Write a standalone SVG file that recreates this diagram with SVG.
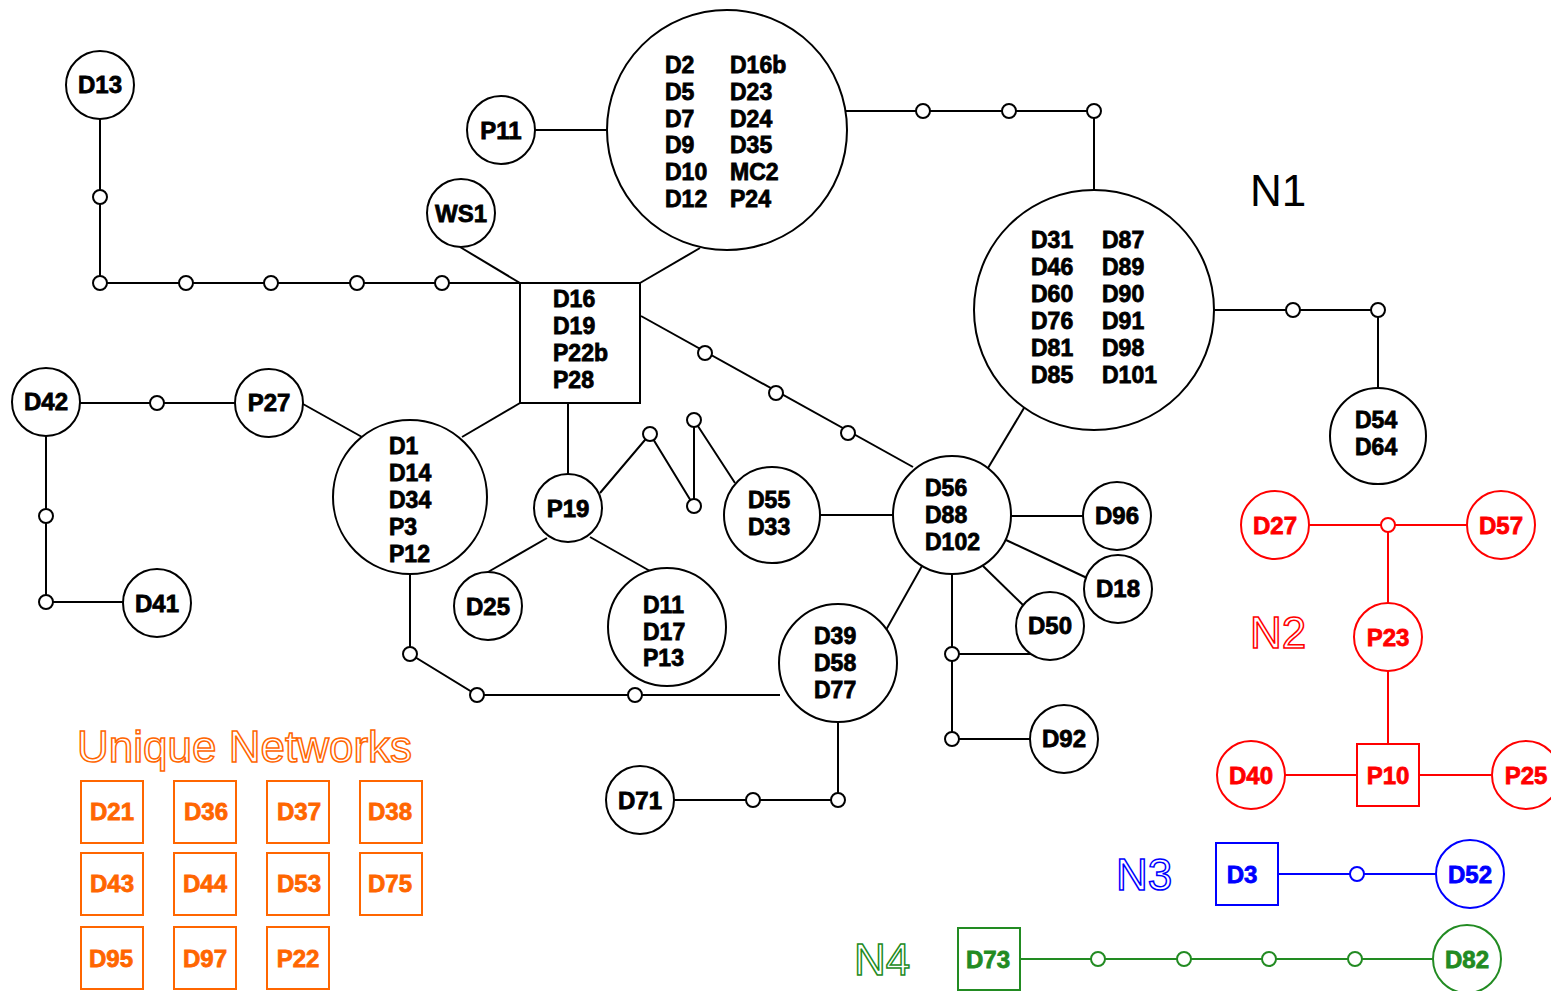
<svg xmlns="http://www.w3.org/2000/svg" width="1551" height="991" viewBox="0 0 1551 991">
<style>
.k{stroke:#000;stroke-width:2;fill:none}
.r{stroke:#ff0000;stroke-width:2;fill:none}
.b{stroke:#0000ff;stroke-width:2;fill:none}
.g{stroke:#228b22;stroke-width:2;fill:none}
.o{stroke:#ff6600;stroke-width:2;fill:none}
.nk{stroke:#000;stroke-width:2;fill:#fff}
.nr{stroke:#ff0000;stroke-width:2;fill:#fff}
.nb{stroke:#0000ff;stroke-width:2;fill:#fff}
.ng{stroke:#228b22;stroke-width:2;fill:#fff}
.no{stroke:#ff6600;stroke-width:2;fill:#fff}
text{font-family:"Liberation Sans",Arial,sans-serif;font-weight:bold;font-size:23px}
.tk{fill:#000;stroke:#000;stroke-width:0.8}
.tr{fill:#ff0000;stroke:#ff0000;stroke-width:0.8}
.tb{fill:#0000ff;stroke:#0000ff;stroke-width:0.8}
.tg{fill:#228b22;stroke:#228b22;stroke-width:0.8}
.to{fill:#ff6600;stroke:#ff6600;stroke-width:0.8}
.c{text-anchor:middle}
.s{font-size:24px}
.big{font-weight:normal;font-size:44px}
.outr{fill:#fff;stroke:#ff0000;stroke-width:1.5}
.outb{fill:#fff;stroke:#0000ff;stroke-width:1.5}
.outg{fill:#fff;stroke:#228b22;stroke-width:1.5}
.outo{fill:#fff;stroke:#ff6600;stroke-width:1.5}
</style>
<rect width="1551" height="991" fill="#fff"/>
<g id="connectors">
<g class="k">
<polyline points="100,119 100,283 520,283"/>
<line x1="460" y1="247" x2="520" y2="283"/>
<line x1="535" y1="130" x2="607" y2="130"/>
<line x1="640" y1="283" x2="700" y2="248"/>
<polyline points="846,111 1094,111 1094,190"/>
<polyline points="1214,310 1378,310 1378,388"/>
<line x1="641" y1="316" x2="913" y2="467"/>
<line x1="568" y1="403" x2="568" y2="474"/>
<line x1="520" y1="403" x2="462" y2="437"/>
<line x1="80" y1="403" x2="235" y2="403"/>
<polyline points="46,436 46,602 123,602"/>
<line x1="303" y1="404" x2="362" y2="437"/>
<polyline points="410,574 410,654 477,695 780,695"/>
<line x1="547" y1="538" x2="488" y2="572"/>
<line x1="590" y1="537" x2="650" y2="571"/>
<polyline points="600,493 650,434 694,506 694,420 735,483"/>
<line x1="820" y1="515" x2="893" y2="515"/>
<line x1="988" y1="468" x2="1024" y2="408"/>
<line x1="1011" y1="516" x2="1084" y2="516"/>
<line x1="1006" y1="540" x2="1087" y2="578"/>
<line x1="983" y1="566" x2="1023" y2="605"/>
<polyline points="952,574 952,739 1030,739"/>
<line x1="952" y1="654" x2="1031" y2="654"/>
<line x1="922" y1="566" x2="886" y2="630"/>
<polyline points="838,722 838,800 674,800"/>
</g>
<line class="r" x1="1309" y1="525" x2="1467" y2="525"/>
<polyline class="r" points="1388,525 1388,603"/>
<line class="r" x1="1388" y1="671" x2="1388" y2="744"/>
<line class="r" x1="1285" y1="775" x2="1491" y2="775"/>
<line class="b" x1="1278" y1="874" x2="1436" y2="874"/>
<line class="g" x1="1020" y1="959" x2="1433" y2="959"/>
<g id="junctions">
<g class="nk">
<circle cx="100" cy="197" r="7"/><circle cx="100" cy="283" r="7"/><circle cx="186" cy="283" r="7"/><circle cx="271" cy="283" r="7"/><circle cx="357" cy="283" r="7"/><circle cx="442" cy="283" r="7"/>
<circle cx="923" cy="111" r="7"/><circle cx="1009" cy="111" r="7"/><circle cx="1094" cy="111" r="7"/>
<circle cx="1293" cy="310" r="7"/><circle cx="1378" cy="310" r="7"/>
<circle cx="705" cy="353" r="7"/><circle cx="776" cy="393" r="7"/><circle cx="848" cy="433" r="7"/>
<circle cx="157" cy="403" r="7"/><circle cx="46" cy="516" r="7"/><circle cx="46" cy="602" r="7"/>
<circle cx="410" cy="654" r="7"/><circle cx="477" cy="695" r="7"/><circle cx="635" cy="695" r="7"/>
<circle cx="650" cy="434" r="7"/><circle cx="694" cy="506" r="7"/><circle cx="694" cy="420" r="7"/>
<circle cx="952" cy="654" r="7"/><circle cx="952" cy="739" r="7"/>
<circle cx="753" cy="800" r="7"/><circle cx="838" cy="800" r="7"/>
</g>
<circle class="nr" cx="1388" cy="525" r="7"/>
<circle class="nb" cx="1357" cy="874" r="7"/>
<g class="ng"><circle cx="1098" cy="959" r="7"/><circle cx="1184" cy="959" r="7"/><circle cx="1269" cy="959" r="7"/><circle cx="1355" cy="959" r="7"/></g>
</g>
</g>
<g id="D13"><circle class="nk" cx="100" cy="85" r="34"/><text class="tk c s" x="100" y="93">D13</text></g>
<g id="P11"><circle class="nk" cx="501" cy="130" r="34"/><text class="tk c s" x="501" y="139">P11</text></g>
<g id="WS1"><circle class="nk" cx="461" cy="213" r="34"/><text class="tk c s" x="461" y="222">WS1</text></g>
<g id="C_D2"><circle class="nk" cx="727" cy="130" r="120"/>
<text class="tk"><tspan x="665" y="73">D2</tspan><tspan x="665" y="100">D5</tspan><tspan x="665" y="127">D7</tspan><tspan x="665" y="153">D9</tspan><tspan x="665" y="180">D10</tspan><tspan x="665" y="207">D12</tspan></text>
<text class="tk"><tspan x="730" y="73">D16b</tspan><tspan x="730" y="100">D23</tspan><tspan x="730" y="127">D24</tspan><tspan x="730" y="153">D35</tspan><tspan x="730" y="180">MC2</tspan><tspan x="730" y="207">P24</tspan></text></g>
<g id="C_D31"><circle class="nk" cx="1094" cy="310" r="120"/>
<text class="tk"><tspan x="1031" y="248">D31</tspan><tspan x="1031" y="275">D46</tspan><tspan x="1031" y="302">D60</tspan><tspan x="1031" y="329">D76</tspan><tspan x="1031" y="356">D81</tspan><tspan x="1031" y="383">D85</tspan></text>
<text class="tk"><tspan x="1102" y="248">D87</tspan><tspan x="1102" y="275">D89</tspan><tspan x="1102" y="302">D90</tspan><tspan x="1102" y="329">D91</tspan><tspan x="1102" y="356">D98</tspan><tspan x="1102" y="383">D101</tspan></text></g>
<g id="N1label"><text class="big" x="1250" y="206" fill="#000">N1</text></g>
<g id="D54"><circle class="nk" cx="1378" cy="436" r="48"/><text class="tk"><tspan x="1355" y="428">D54</tspan><tspan x="1355" y="455">D64</tspan></text></g>
<g id="B_D16"><rect class="nk" x="520" y="283" width="120" height="120"/>
<text class="tk"><tspan x="553" y="307">D16</tspan><tspan x="553" y="334">D19</tspan><tspan x="553" y="361">P22b</tspan><tspan x="553" y="388">P28</tspan></text></g>
<g id="D42"><circle class="nk" cx="46" cy="402" r="34"/><text class="tk c s" x="46" y="410">D42</text></g>
<g id="P27"><circle class="nk" cx="269" cy="403" r="34"/><text class="tk c s" x="269" y="411">P27</text></g>
<g id="D41"><circle class="nk" cx="157" cy="603" r="34"/><text class="tk c s" x="157" y="612">D41</text></g>
<g id="C_D1"><circle class="nk" cx="410" cy="497" r="77"/>
<text class="tk"><tspan x="389" y="454">D1</tspan><tspan x="389" y="481">D14</tspan><tspan x="389" y="508">D34</tspan><tspan x="389" y="535">P3</tspan><tspan x="389" y="562">P12</tspan></text></g>
<g id="P19"><circle class="nk" cx="568" cy="508" r="34"/><text class="tk c s" x="568" y="517">P19</text></g>
<g id="D25"><circle class="nk" cx="488" cy="606" r="34"/><text class="tk c s" x="488" y="615">D25</text></g>
<g id="C_D11"><circle class="nk" cx="667" cy="627" r="59"/>
<text class="tk"><tspan x="643" y="613">D11</tspan><tspan x="643" y="640">D17</tspan><tspan x="643" y="666">P13</tspan></text></g>
<g id="C_D55"><circle class="nk" cx="772" cy="515" r="48"/>
<text class="tk"><tspan x="748" y="508">D55</tspan><tspan x="748" y="535">D33</tspan></text></g>
<g id="C_D56"><circle class="nk" cx="952" cy="515" r="59"/>
<text class="tk"><tspan x="925" y="496">D56</tspan><tspan x="925" y="523">D88</tspan><tspan x="925" y="550">D102</tspan></text></g>
<g id="D96"><circle class="nk" cx="1117" cy="516" r="34"/><text class="tk c s" x="1117" y="524">D96</text></g>
<g id="D18"><circle class="nk" cx="1118" cy="589" r="34"/><text class="tk c s" x="1118" y="597">D18</text></g>
<g id="D50"><circle class="nk" cx="1050" cy="626" r="34"/><text class="tk c s" x="1050" y="634">D50</text></g>
<g id="D92"><circle class="nk" cx="1064" cy="739" r="34"/><text class="tk c s" x="1064" y="747">D92</text></g>
<g id="C_D39"><circle class="nk" cx="838" cy="663" r="59"/>
<text class="tk"><tspan x="814" y="644">D39</tspan><tspan x="814" y="671">D58</tspan><tspan x="814" y="698">D77</tspan></text></g>
<g id="D71"><circle class="nk" cx="640" cy="800" r="34"/><text class="tk c s" x="640" y="809">D71</text></g>
<g id="N2">
<text class="outr big" x="1250" y="648">N2</text>
<g id="D27"><circle class="nr" cx="1275" cy="525" r="34"/><text class="tr c s" x="1275" y="534">D27</text></g>
<g id="D57"><circle class="nr" cx="1501" cy="525" r="34"/><text class="tr c s" x="1501" y="534">D57</text></g>
<g id="P23"><circle class="nr" cx="1388" cy="637" r="34"/><text class="tr c s" x="1388" y="646">P23</text></g>
<g id="P10"><rect class="nr" x="1357" y="744" width="62" height="62"/><text class="tr c s" x="1388" y="784">P10</text></g>
<g id="D40"><circle class="nr" cx="1251" cy="775" r="34"/><text class="tr c s" x="1251" y="784">D40</text></g>
<g id="P25"><circle class="nr" cx="1526" cy="775" r="34"/><text class="tr c s" x="1526" y="784">P25</text></g>
</g>
<g id="N3">
<text class="outb big" x="1116" y="890">N3</text>
<g id="D3"><rect class="nb" x="1216" y="843" width="62" height="62"/><text class="tb c s" x="1242" y="883">D3</text></g>
<g id="D52"><circle class="nb" cx="1470" cy="874" r="34"/><text class="tb c s" x="1470" y="883">D52</text></g>
</g>
<g id="N4">
<text class="outg big" x="854" y="975">N4</text>
<g id="D73"><rect class="ng" x="958" y="928" width="62" height="62"/><text class="tg c s" x="988" y="968">D73</text></g>
<g id="D82"><circle class="ng" cx="1467" cy="959" r="34"/><text class="tg c s" x="1467" y="968">D82</text></g>
</g>
<g id="unique">
<text class="outo big" x="77" y="762" style="font-size:44px">Unique Networks</text>
<g id="D21"><rect class="no" x="81" y="781" width="62" height="62"/><text class="to c s" x="112" y="820">D21</text></g>
<g id="D36"><rect class="no" x="174" y="781" width="62" height="62"/><text class="to c s" x="206" y="820">D36</text></g>
<g id="D37"><rect class="no" x="267" y="781" width="62" height="62"/><text class="to c s" x="299" y="820">D37</text></g>
<g id="D38"><rect class="no" x="360" y="781" width="62" height="62"/><text class="to c s" x="390" y="820">D38</text></g>
<g id="D43"><rect class="no" x="81" y="853" width="62" height="62"/><text class="to c s" x="112" y="892">D43</text></g>
<g id="D44"><rect class="no" x="174" y="853" width="62" height="62"/><text class="to c s" x="205" y="892">D44</text></g>
<g id="D53"><rect class="no" x="267" y="853" width="62" height="62"/><text class="to c s" x="299" y="892">D53</text></g>
<g id="D75"><rect class="no" x="360" y="853" width="62" height="62"/><text class="to c s" x="390" y="892">D75</text></g>
<g id="D95"><rect class="no" x="81" y="927" width="62" height="62"/><text class="to c s" x="111" y="967">D95</text></g>
<g id="D97"><rect class="no" x="174" y="927" width="62" height="62"/><text class="to c s" x="205" y="967">D97</text></g>
<g id="P22"><rect class="no" x="267" y="927" width="62" height="62"/><text class="to c s" x="298" y="967">P22</text></g>
</g>
</svg>
